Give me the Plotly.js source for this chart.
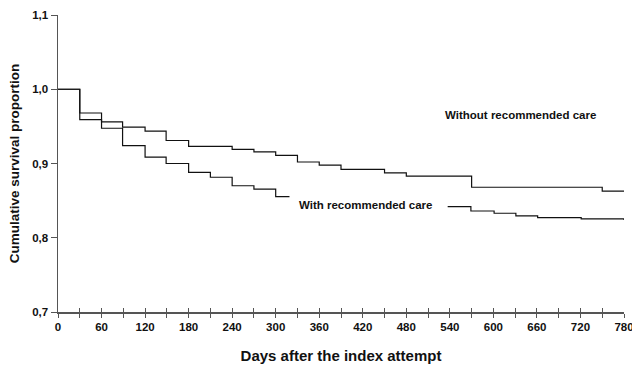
<!DOCTYPE html>
<html><head><meta charset="utf-8">
<script src="https://cdn.plot.ly/plotly-3.0.1.min.js"></script>
<style>html,body{margin:0;padding:0;background:#fff}#chart{width:632px;height:365px}</style>
</head><body><div id="chart"></div>
<script>
const withoutDays = [0,30,60,89,120,149,180,240,270,300,330,360,390,450,480,570,750,780];
const withoutSurv = [1.0,0.968,0.956,0.949,0.9435,0.931,0.923,0.919,0.9156,0.911,0.902,0.8977,0.892,0.8873,0.883,0.868,0.8627,0.8627];
const withDays1 = [0,30,60,89,120,149,180,210,240,270,300,319];
const withSurv1 = [1.0,0.959,0.9475,0.924,0.9085,0.900,0.888,0.8815,0.870,0.8654,0.8555,0.8555];
const withDays2 = [537,569,601,631,661,721,780];
const withSurv2 = [0.842,0.836,0.833,0.8295,0.8272,0.8255,0.824];
const xTickVals = [0,60,120,180,240,300,360,420,480,540,600,660,720,780];
const labelWithout = "Without recommended care";
const labelWith = "With recommended care";
const xTitle = "Days after the index attempt";
const yTitle = "Cumulative survival proportion";

const F = "Arial, 'Liberation Sans', sans-serif";
const lineStyle = {color:'#111', width:1.2, shape:'hv'};
const traces = [
  {x: withoutDays, y: withoutSurv, mode:'lines', line: lineStyle, name: labelWithout},
  {x: withDays1.concat([null]).concat(withDays2), y: withSurv1.concat([null]).concat(withSurv2), mode:'lines', line: lineStyle, connectgaps:false, name: labelWith},
  {x:[0,780], y:[0.7,0.7], xaxis:'x2', mode:'none', showlegend:false, hoverinfo:'skip'}
];
const layout = {
  width:632, height:365, showlegend:false,
  paper_bgcolor:'#fff', plot_bgcolor:'#fff',
  margin:{l:58, r:8, t:15, b:53},
  separators:',.',
  font:{family:F, color:'#111'},
  xaxis:{range:[0,780], tickmode:'array', tickvals:xTickVals, ticktext:xTickVals.map(String), showgrid:false, zeroline:false,
    showline:true, linecolor:'#555', linewidth:1.5, ticklabeloverflow:'allow',
    ticks:'outside', ticklen:4, tickcolor:'#555', tickwidth:1,
    minor:{dtick:30, tick0:0, ticks:'outside', ticklen:4, tickcolor:'#555', tickwidth:1},
    tickfont:{family:F, size:11.5, color:'#111', weight:'bold'},
    title:{text:'<b>'+xTitle+'</b>', font:{family:F, size:15, color:'#111'}, standoff:18}},
  xaxis2:{range:[0,780], overlaying:'x', anchor:'y', side:'bottom', dtick:30, tick0:0, showgrid:false, zeroline:false,
    showline:false, ticks:'inside', ticklen:4, tickcolor:'#555', tickwidth:1, showticklabels:false},
  yaxis:{range:[0.7,1.1], dtick:0.1, tick0:0.7, tickformat:'.1f', showgrid:false, zeroline:false,
    showline:true, linecolor:'#555', linewidth:1.5,
    ticks:'outside', ticklen:6, tickcolor:'#555', tickwidth:1,
    tickfont:{family:F, size:11.5, color:'#111', weight:'bold'},
    title:{text:'<b>'+yTitle+'</b>', font:{family:F, size:13.5, color:'#111'}, standoff:9}},
  annotations:[
    {x:638, y:0.9654, xref:'x', yref:'y', text:'<b>'+labelWithout+'</b>', showarrow:false, font:{family:F, size:11.5, color:'#111'}},
    {x:424, y:0.8443, xref:'x', yref:'y', text:'<b>'+labelWith+'</b>', showarrow:false, font:{family:F, size:11.5, color:'#111'}}
  ]
};
Plotly.newPlot('chart', traces, layout, {displayModeBar:false, staticPlot:true});
</script></body></html>
